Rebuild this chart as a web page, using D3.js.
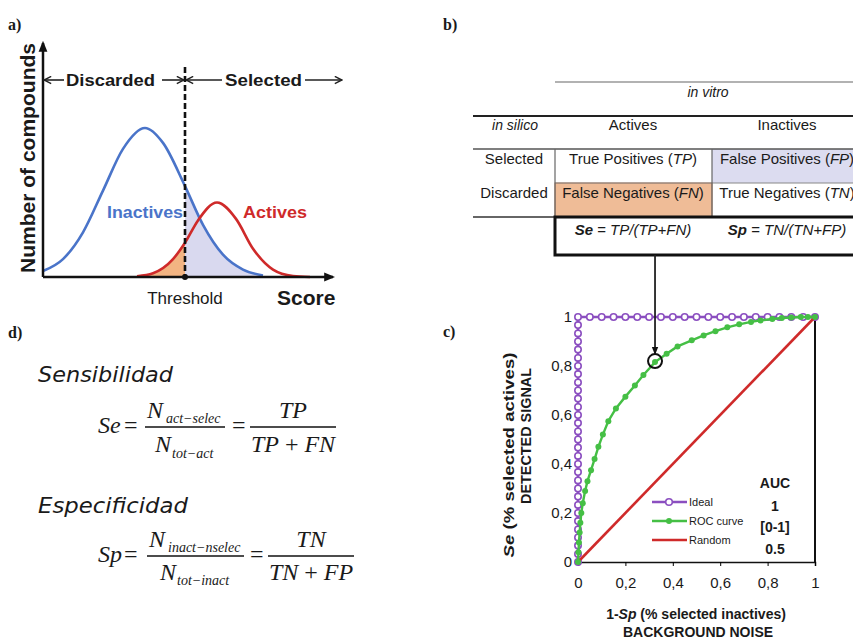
<!DOCTYPE html>
<html>
<head>
<meta charset="utf-8">
<script src="https://cdn.jsdelivr.net/npm/d3@7"></script>
<style>
body { margin: 0; background: #fff; }
text { font-family: Arial, "Liberation Sans", sans-serif; fill: #1a1a1a; }
.lbl { font-family: "Liberation Serif", "Times New Roman", serif; font-weight: bold; font-size: 16px; }
.math { font-family: "Liberation Serif", "Times New Roman", serif; font-style: italic; }
.comic { font-family: "Comic Sans MS", "DejaVu Sans", sans-serif; font-style: italic; font-size: 21px; }
</style>
</head>
<body>
<div id="fig"></div>
<script>
// ---------- data ----------
// a) score distributions (arbitrary units)
var scoreInactives = [0, 2, 4, 6, 8, 10.2, 12, 14.2, 16, 18, 20, 22];
var countInactives = [0.04, 0.12, 0.30, 0.58, 0.86, 1.0, 0.90, 0.61, 0.35, 0.15, 0.05, 0.01];
var scoreActives = [9.4, 11, 13, 14.2, 15.5, 17.4, 19.3, 21, 23, 25, 26.7];
var countActives = [0.005, 0.025, 0.12, 0.23, 0.38, 0.5, 0.39, 0.19, 0.05, 0.007, 0];
var threshold = 14.2;

// b) confusion table
var tableCols = ["Actives", "Inactives"];
var tableRows = ["Selected", "Discarded"];
var cellNames = [["True Positives", "False Positives"], ["False Negatives", "True Negatives"]];
var cellAbbr = [["TP", "FP"], ["FN", "TN"]];
var rateNames = ["Se", "Sp"];
var rateFormulas = ["TP/(TP+FN)", "TN/(TN+FP)"];

// c) ROC curves
var idealX = [0, 0, 1];
var idealY = [0, 1, 1];
var idealMarkX = [0, 0, 0, 0, 0, 0, 0, 0, 0, 0, 0, 0, 0, 0, 0, 0, 0, 0, 0, 0, 0, 0, 0, 0, 0, 0, 0, 0, 0, 0,
  0, 0.05, 0.1, 0.15, 0.2, 0.25, 0.3, 0.35, 0.4, 0.45, 0.5, 0.55, 0.6, 0.65, 0.7, 0.75, 0.8, 0.85, 0.9, 0.95, 1];
var idealMarkY = [0, 0.033, 0.067, 0.1, 0.133, 0.167, 0.2, 0.233, 0.267, 0.3, 0.333, 0.367, 0.4, 0.433, 0.467,
  0.5, 0.533, 0.567, 0.6, 0.633, 0.667, 0.7, 0.733, 0.767, 0.8, 0.833, 0.867, 0.9, 0.933, 0.967,
  1, 1, 1, 1, 1, 1, 1, 1, 1, 1, 1, 1, 1, 1, 1, 1, 1, 1, 1, 1, 1];
var rocX = [0, 0.002, 0.004, 0.007, 0.01, 0.014, 0.02, 0.03, 0.04, 0.055, 0.07, 0.086, 0.105, 0.128, 0.16,
  0.2, 0.24, 0.276, 0.325, 0.374, 0.42, 0.48, 0.53, 0.58, 0.63, 0.68, 0.73, 0.77, 0.82, 0.86, 0.9, 0.94, 0.97, 1];
var rocY = [0, 0.04, 0.08, 0.12, 0.16, 0.2, 0.24, 0.29, 0.33, 0.375, 0.42, 0.47, 0.52, 0.575, 0.627,
  0.675, 0.72, 0.763, 0.816, 0.85, 0.88, 0.905, 0.925, 0.942, 0.958, 0.97, 0.98, 0.986, 0.992, 0.996, 0.998, 1, 1, 1];
var randomX = [0, 1];
var randomY = [0, 1];
var highlightPoint = [0.325, 0.82];
var rocTicks = [0, 0.2, 0.4, 0.6, 0.8, 1];
var legendLabels = ["Ideal", "ROC curve", "Random"];
var aucLabels = ["1", "[0-1]", "0.5"];

var purple = "#8b4fc0", green = "#45bf45", red = "#cf2a2a", blue = "#4a74c9";

var svg = d3.select("#fig").append("svg")
    .attr("width", 853)
    .attr("height", 642);

var defs = svg.append("defs");

// filled arrow head for the axes
defs.append("marker")
    .attr("id", "tri")
    .attr("viewBox", "0 0 10 10")
    .attr("refX", 8).attr("refY", 5)
    .attr("markerUnits", "userSpaceOnUse")
    .attr("markerWidth", 11).attr("markerHeight", 11)
    .attr("orient", "auto-start-reverse")
    .append("path").attr("d", "M0,1 L10,5 L0,9 z").attr("fill", "#111");

// open chevron for the discarded / selected arrows
defs.append("marker")
    .attr("id", "chev")
    .attr("viewBox", "0 0 10 10")
    .attr("refX", 9).attr("refY", 5)
    .attr("markerUnits", "userSpaceOnUse")
    .attr("markerWidth", 9).attr("markerHeight", 9)
    .attr("orient", "auto-start-reverse")
    .append("path").attr("d", "M1,1 L9,5 L1,9").attr("fill", "none").attr("stroke", "#222").attr("stroke-width", 1.6);

// small arrow towards the ROC point
defs.append("marker")
    .attr("id", "dn")
    .attr("viewBox", "0 0 10 10")
    .attr("refX", 9).attr("refY", 5)
    .attr("markerUnits", "userSpaceOnUse")
    .attr("markerWidth", 8).attr("markerHeight", 8)
    .attr("orient", "auto")
    .append("path").attr("d", "M0,1 L10,5 L0,9 z").attr("fill", "#111");

// panel letters
svg.append("text").attr("class", "lbl").attr("x", 8).attr("y", 30).text("a)");
svg.append("text").attr("class", "lbl").attr("x", 443).attr("y", 30).text("b)");
svg.append("text").attr("class", "lbl").attr("x", 443).attr("y", 337).text("c)");
svg.append("text").attr("class", "lbl").attr("x", 8).attr("y", 338).text("d)");

// ================= a) distributions =================
var xA = d3.scaleLinear().domain([0, 29]).range([43, 333]);
var yA = d3.scaleLinear().domain([0, 1]).range([277, 128]);

var inactives = scoreInactives.map(function (s, i) { return {x: s, y: countInactives[i]}; });
var actives = scoreActives.map(function (s, i) { return {x: s, y: countActives[i]}; });

var lineA = d3.line()
    .x(function (d) { return xA(d.x); })
    .y(function (d) { return yA(d.y); })
    .curve(d3.curveMonotoneX);

var areaA = d3.area()
    .x(function (d) { return xA(d.x); })
    .y0(yA(0))
    .y1(function (d) { return yA(d.y); })
    .curve(d3.curveMonotoneX);

defs.append("clipPath").attr("id", "leftOfT").append("rect")
    .attr("x", xA(0)).attr("y", 0).attr("width", xA(threshold) - xA(0)).attr("height", 300);
defs.append("clipPath").attr("id", "rightOfT").append("rect")
    .attr("x", xA(threshold)).attr("y", 0).attr("width", xA(29) - xA(threshold)).attr("height", 300);

// false negatives (actives left of threshold) and false positives (inactives right of it)
svg.append("path").attr("d", areaA(actives)).attr("fill", "#f2b482").attr("clip-path", "url(#leftOfT)");
svg.append("path").attr("d", areaA(inactives)).attr("fill", "#d9d9ef").attr("clip-path", "url(#rightOfT)");

svg.append("path").attr("d", lineA(inactives))
    .attr("fill", "none").attr("stroke", blue).attr("stroke-width", 2.6);
svg.append("path").attr("d", lineA(actives))
    .attr("fill", "none").attr("stroke", red).attr("stroke-width", 2.6);

// axes with arrow heads
svg.append("line")
    .attr("x1", xA(0)).attr("y1", yA(0)).attr("x2", xA(0)).attr("y2", 43)
    .attr("stroke", "#111").attr("stroke-width", 2.5).attr("marker-end", "url(#tri)");
svg.append("line")
    .attr("x1", xA(0)).attr("y1", yA(0)).attr("x2", 333).attr("y2", yA(0))
    .attr("stroke", "#111").attr("stroke-width", 2.5).attr("marker-end", "url(#tri)");

// threshold
svg.append("line")
    .attr("x1", xA(threshold)).attr("x2", xA(threshold))
    .attr("y1", 67).attr("y2", yA(0))
    .attr("stroke", "#111").attr("stroke-width", 2.6).attr("stroke-dasharray", "6,3");
svg.append("circle").attr("cx", xA(threshold)).attr("cy", yA(0)).attr("r", 3).attr("fill", "#111");

// discarded / selected arrows
var arrY = 80;
svg.append("line").attr("x1", xA(0) + 1).attr("x2", 64).attr("y1", arrY).attr("y2", arrY)
    .attr("stroke", "#222").attr("stroke-width", 1.6).attr("marker-start", "url(#chev)");
svg.append("text").attr("x", 66).attr("y", arrY + 6).attr("font-size", 17).attr("font-weight", "bold")
    .attr("textLength", 89).attr("lengthAdjust", "spacingAndGlyphs").text("Discarded");
svg.append("line").attr("x1", 162).attr("x2", xA(threshold) - 1).attr("y1", arrY).attr("y2", arrY)
    .attr("stroke", "#222").attr("stroke-width", 1.6).attr("marker-end", "url(#chev)");
svg.append("line").attr("x1", xA(threshold) + 1).attr("x2", 222).attr("y1", arrY).attr("y2", arrY)
    .attr("stroke", "#222").attr("stroke-width", 1.6).attr("marker-start", "url(#chev)");
svg.append("text").attr("x", 225).attr("y", arrY + 6).attr("font-size", 17).attr("font-weight", "bold")
    .attr("textLength", 77).attr("lengthAdjust", "spacingAndGlyphs").text("Selected");
svg.append("line").attr("x1", 305).attr("x2", 342).attr("y1", arrY).attr("y2", arrY)
    .attr("stroke", "#222").attr("stroke-width", 1.6).attr("marker-end", "url(#chev)");

svg.append("text").attr("x", 107).attr("y", 218).attr("font-size", 17).attr("font-weight", "bold")
    .style("fill", blue).attr("textLength", 76).attr("lengthAdjust", "spacingAndGlyphs").text("Inactives");
svg.append("text").attr("x", 243).attr("y", 218).attr("font-size", 17).attr("font-weight", "bold")
    .style("fill", red).attr("textLength", 64).attr("lengthAdjust", "spacingAndGlyphs").text("Actives");
svg.append("text").attr("x", xA(threshold)).attr("y", 304).attr("text-anchor", "middle")
    .attr("font-size", 17).text("Threshold");
svg.append("text").attr("x", 277).attr("y", 305).attr("font-size", 21).attr("font-weight", "bold")
    .text("Score");
svg.append("text")
    .attr("transform", "translate(35,158) rotate(-90)")
    .attr("text-anchor", "middle").attr("font-size", 20).attr("font-weight", "bold")
    .attr("textLength", 230).attr("lengthAdjust", "spacingAndGlyphs")
    .text("Number of compounds");

// ================= b) table =================
var colX = [633, 787];
var rowY = [164, 198];
var tb = svg.append("g").attr("font-size", 15);

function hline(y, x1, x2, color, w) {
    tb.append("line").attr("x1", x1).attr("x2", x2).attr("y1", y).attr("y2", y)
        .attr("stroke", color).attr("stroke-width", w);
}

tb.append("rect").attr("x", 712).attr("y", 149).attr("width", 150).attr("height", 34).attr("fill", "#dcdcf0");
tb.append("rect").attr("x", 555).attr("y", 183).attr("width", 157).attr("height", 34)
    .attr("fill", "#efbc97").attr("stroke", "#b97a55").attr("stroke-width", 1);

hline(82, 555, 853, "#666", 1.2);
hline(116, 473, 853, "#222", 2);
hline(149, 473, 853, "#555", 1.5);
hline(183, 555, 853, "#888", 1);
hline(217, 473, 853, "#333", 1.5);
[555, 712].forEach(function (x) {
    tb.append("line").attr("x1", x).attr("x2", x).attr("y1", 149).attr("y2", 217)
        .attr("stroke", "#666").attr("stroke-width", 1.2);
});
tb.append("rect").attr("x", 555).attr("y", 217).attr("width", 320).attr("height", 38)
    .attr("fill", "none").attr("stroke", "#111").attr("stroke-width", 3);

tb.append("text").attr("x", 708).attr("y", 97).attr("text-anchor", "middle")
    .style("font-style", "italic").attr("font-size", 14).text("in vitro");
tb.append("text").attr("x", 515).attr("y", 130).attr("text-anchor", "middle")
    .style("font-style", "italic").attr("font-size", 14).text("in silico");
tb.selectAll(".colh").data(tableCols).enter().append("text")
    .attr("x", function (d, i) { return colX[i]; }).attr("y", 130)
    .attr("text-anchor", "middle").text(function (d) { return d; });
tb.selectAll(".rowh").data(tableRows).enter().append("text")
    .attr("x", 514).attr("y", function (d, i) { return rowY[i]; })
    .attr("text-anchor", "middle").text(function (d) { return d; });

cellNames.forEach(function (row, r) {
    row.forEach(function (name, c) {
        var t = tb.append("text").attr("x", colX[c]).attr("y", rowY[r]).attr("text-anchor", "middle");
        t.append("tspan").text(name + " (");
        t.append("tspan").style("font-style", "italic").text(cellAbbr[r][c]);
        t.append("tspan").text(")");
    });
});

rateNames.forEach(function (name, i) {
    var t = tb.append("text").attr("x", colX[i]).attr("y", 235).attr("text-anchor", "middle");
    t.append("tspan").style("font-style", "italic").attr("font-weight", "bold").text(name);
    t.append("tspan").text(" = ");
    t.append("tspan").style("font-style", "italic").text(rateFormulas[i]);
});

// ================= c) ROC =================
var xC = d3.scaleLinear().domain([0, 1]).range([578, 815]);
var yC = d3.scaleLinear().domain([0, 1]).range([562, 317]);
var comma = function (d) { return String(d).replace(".", ","); };

var lineC = d3.line()
    .x(function (d) { return xC(d[0]); })
    .y(function (d) { return yC(d[1]); });

var gC = svg.append("g");

gC.append("g")
    .attr("transform", "translate(0," + yC(0) + ")")
    .call(d3.axisBottom(xC).tickValues(rocTicks).tickFormat(comma).tickSize(4).tickPadding(11))
    .call(function (g) {
        g.select(".domain").attr("stroke", "#111").attr("stroke-width", 1.5);
        g.selectAll(".tick text").attr("font-size", 15).style("font-family", "Arial, sans-serif");
    });

gC.append("g")
    .attr("transform", "translate(" + xC(0) + ",0)")
    .call(d3.axisLeft(yC).tickValues(rocTicks).tickFormat(comma).tickSize(0).tickPadding(6))
    .call(function (g) {
        g.select(".domain").remove();
        g.selectAll(".tick text").attr("font-size", 15).style("font-family", "Arial, sans-serif");
    });

gC.append("line")
    .attr("x1", xC(1)).attr("x2", xC(1)).attr("y1", yC(1)).attr("y2", yC(0))
    .attr("stroke", "#111").attr("stroke-width", 2);

var idealPts = idealX.map(function (x, i) { return [x, idealY[i]]; });
var idealMarks = idealMarkX.map(function (x, i) { return [x, idealMarkY[i]]; });
var rocPts = rocX.map(function (x, i) { return [x, rocY[i]]; });
var randomPts = randomX.map(function (x, i) { return [x, randomY[i]]; });

gC.append("path").attr("d", lineC(idealPts))
    .attr("fill", "none").attr("stroke", purple).attr("stroke-width", 2.6);
gC.selectAll(".im").data(idealMarks).enter().append("circle")
    .attr("cx", function (d) { return xC(d[0]); })
    .attr("cy", function (d) { return yC(d[1]); })
    .attr("r", 3.2).attr("fill", "#fff").attr("stroke", purple).attr("stroke-width", 1.6);

gC.append("path").attr("d", lineC(randomPts))
    .attr("fill", "none").attr("stroke", red).attr("stroke-width", 2.6);

gC.append("path").attr("d", lineC(rocPts))
    .attr("fill", "none").attr("stroke", green).attr("stroke-width", 2.4);
gC.selectAll(".rm").data(rocPts).enter().append("circle")
    .attr("cx", function (d) { return xC(d[0]); })
    .attr("cy", function (d) { return yC(d[1]); })
    .attr("r", 3).attr("fill", green);

// highlighted point and link from the table
var hx = xC(highlightPoint[0]), hy = yC(highlightPoint[1]);
gC.append("line").attr("x1", hx).attr("x2", hx).attr("y1", 255).attr("y2", hy - 7)
    .attr("stroke", "#222").attr("stroke-width", 1.8).attr("marker-end", "url(#dn)");
gC.append("circle").attr("cx", hx).attr("cy", hy).attr("r", 7)
    .attr("fill", "none").attr("stroke", "#111").attr("stroke-width", 2);

// legend
var legY = [502, 521, 540];
var leg = gC.selectAll(".leg").data(legendLabels).enter().append("g")
    .attr("transform", function (d, i) { return "translate(652," + legY[i] + ")"; });
leg.append("line").attr("x1", 0).attr("x2", 35)
    .attr("stroke", function (d, i) { return [purple, green, red][i]; })
    .attr("stroke-width", 2.6);
leg.filter(function (d, i) { return i === 0; }).append("circle")
    .attr("cx", 17).attr("r", 3.3).attr("fill", "#fff").attr("stroke", purple).attr("stroke-width", 1.6);
leg.filter(function (d, i) { return i === 1; }).append("circle")
    .attr("cx", 17).attr("r", 3).attr("fill", green);
leg.append("text").attr("x", 37).attr("y", 4).attr("font-size", 11).text(function (d) { return d; });

// AUC column
var aucY = [506, 527, 549];
gC.append("text").attr("x", 775).attr("y", 488).attr("text-anchor", "middle")
    .attr("font-size", 14).attr("font-weight", "bold").text("AUC");
gC.selectAll(".auc").data(aucLabels).enter().append("text")
    .attr("x", 775).attr("y", function (d, i) { return aucY[i] + 5; })
    .attr("text-anchor", "middle").attr("font-size", 14).attr("font-weight", "bold")
    .text(function (d) { return d; });

// axis titles
var xt = gC.append("text").attr("x", 696).attr("y", 619).attr("text-anchor", "middle")
    .attr("font-size", 14).attr("font-weight", "bold");
xt.append("tspan").text("1-");
xt.append("tspan").style("font-style", "italic").text("Sp");
xt.append("tspan").text(" (% selected inactives)");
gC.append("text").attr("x", 698).attr("y", 637).attr("text-anchor", "middle")
    .attr("font-size", 14).attr("font-weight", "bold").text("BACKGROUND NOISE");

var yt = gC.append("text").attr("transform", "translate(514,455) rotate(-90)")
    .attr("text-anchor", "middle").attr("font-size", 14).attr("font-weight", "bold")
    .attr("textLength", 205).attr("lengthAdjust", "spacingAndGlyphs");
yt.append("tspan").style("font-style", "italic").text("Se");
yt.append("tspan").text(" (% selected actives)");
gC.append("text").attr("transform", "translate(531,436) rotate(-90)")
    .attr("text-anchor", "middle").attr("font-size", 14).attr("font-weight", "bold")
    .attr("textLength", 136).attr("lengthAdjust", "spacingAndGlyphs")
    .text("DETECTED SIGNAL");

// ================= d) formulas =================
var gd = svg.append("g");
gd.append("text").attr("class", "comic").attr("x", 38).attr("y", 382)
    .attr("textLength", 135).attr("lengthAdjust", "spacingAndGlyphs").text("Sensibilidad");
gd.append("text").attr("class", "comic").attr("x", 38).attr("y", 513)
    .attr("textLength", 150).attr("lengthAdjust", "spacingAndGlyphs").text("Especificidad");

function fraction(bar, x1, x2) {
    gd.append("line").attr("x1", x1).attr("x2", x2).attr("y1", bar).attr("y2", bar)
        .attr("stroke", "#111").attr("stroke-width", 1.3);
}
function mtext(x, y, size, str, anchor) {
    return gd.append("text").attr("class", "math").attr("x", x).attr("y", y)
        .attr("font-size", size).attr("text-anchor", anchor || "start").text(str);
}

// Se
mtext(98, 433, 24, "Se");
mtext(124, 433, 24, "=").style("font-style", "normal");
mtext(147, 418, 24, "N"); mtext(166, 423, 14, "act\u2212selec");
fraction(427, 145, 225);
mtext(155, 452, 24, "N"); mtext(172, 458, 14, "tot\u2212act");
mtext(232, 433, 24, "=").style("font-style", "normal");
mtext(293, 418, 24, "TP", "middle");
fraction(427, 250, 336);
var d1 = mtext(293, 452, 24, "", "middle");
d1.append("tspan").text("TP");
d1.append("tspan").style("font-style", "normal").text(" + ");
d1.append("tspan").text("FN");

// Sp
mtext(98, 562, 24, "Sp");
mtext(124, 562, 24, "=").style("font-style", "normal");
mtext(149, 547, 24, "N"); mtext(168, 552, 14, "inact\u2212nselec");
fraction(556, 147, 244);
mtext(160, 580, 24, "N"); mtext(177, 585, 14, "tot\u2212inact");
mtext(250, 562, 24, "=").style("font-style", "normal");
mtext(311, 547, 24, "TN", "middle");
fraction(556, 268, 354);
var d2 = mtext(311, 580, 24, "", "middle");
d2.append("tspan").text("TN");
d2.append("tspan").style("font-style", "normal").text(" + ");
d2.append("tspan").text("FP");
</script>
</body>
</html>
